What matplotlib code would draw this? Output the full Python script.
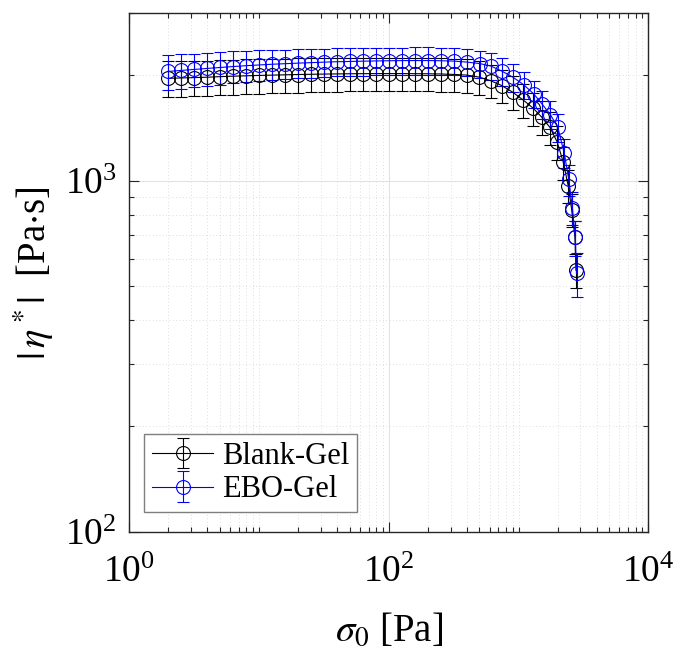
import matplotlib
matplotlib.use("Agg")
import matplotlib.pyplot as plt
import numpy as np
from matplotlib.ticker import LogLocator, LogFormatterMathtext, NullFormatter

plt.rcParams['font.family'] = ['Liberation Serif', 'DejaVu Serif']
plt.rcParams['mathtext.fontset'] = 'stix'

# stress amplitude [Pa]
x_blank = [2.00, 2.52, 3.17, 3.99, 5.02, 6.32, 7.96, 10.0, 12.6, 15.9, 20.0, 25.2,
           31.7, 39.9, 50.2, 63.2, 79.6, 100, 126, 159, 200, 252, 317,
           403, 499, 610, 741, 901, 1088, 1300, 1508, 1747, 1989, 2213, 2418,
           2569, 2723, 2773]
x_ebo = [2.00, 2.52, 3.17, 3.99, 5.02, 6.32, 7.96, 10.0, 12.6, 15.9, 20.0, 25.2,
         31.7, 39.9, 50.2, 63.2, 79.6, 100, 126, 159, 200, 252, 317,
         404, 502, 612, 745, 905, 1095, 1310, 1520, 1760, 2010, 2250, 2440,
         2600, 2740, 2800]

# complex viscosity [Pa s]
eta_blank = [1960, 1965, 1970, 1975, 1982, 1988, 1993, 1998, 2002, 2006, 2010, 2013,
             2016, 2018, 2020, 2021, 2022, 2022, 2022, 2021, 2020, 2017, 2011,
             2002, 1975, 1930, 1870, 1790, 1700, 1610, 1520, 1420, 1290, 1130,
             967, 828, 692, 556]
eta_ebo = [2051, 2065, 2078, 2092, 2105, 2118, 2130, 2140, 2150, 2158, 2166, 2173,
           2180, 2186, 2190, 2194, 2197, 2200, 2202, 2203, 2203, 2200, 2195,
           2180, 2160, 2125, 2055, 1975, 1880, 1770, 1655, 1545, 1420, 1200,
           1010, 838, 690, 545]

err_blank = [230, 230, 228, 228, 227, 226, 226, 225, 225, 224, 224, 223,
             223, 222, 222, 222, 221, 221, 221, 220, 220, 220, 219,
             218, 215, 210, 205, 196, 186, 176, 166, 155, 140, 122,
             104, 90, 75, 61]
err_ebo = [235, 232, 229, 226, 223, 220, 217, 214, 211, 208, 205, 203,
           201, 200, 199, 198, 197, 197, 197, 197, 197, 197, 196,
           195, 193, 190, 185, 178, 170, 160, 150, 141, 130, 115,
           102, 90, 80, 77]

fig = plt.figure(figsize=(6.74, 6.52), dpi=100)
ax = fig.add_axes([0.1918, 0.1845, 0.770, 0.7948])

ax.errorbar(x_blank, eta_blank, yerr=err_blank, color='black', marker='o',
            mfc='none', ms=10, mew=0.8, lw=0.8, elinewidth=0.8, capsize=4.5,
            capthick=0.8, label='Blank-Gel')
ax.errorbar(x_ebo, eta_ebo, yerr=err_ebo, color='blue', marker='o',
            mfc='none', ms=10, mew=0.8, lw=0.8, elinewidth=0.8, capsize=4.5,
            capthick=0.8, label='EBO-Gel')

ax.set_xscale('log')
ax.set_yscale('log')
ax.set_xlim(1, 1e4)
ax.set_ylim(100, 3000)

ax.xaxis.set_major_locator(LogLocator(base=100))
ax.xaxis.set_minor_locator(LogLocator(base=10, subs=np.arange(1, 10), numticks=20))
ax.xaxis.set_minor_formatter(NullFormatter())
ax.xaxis.set_major_formatter(LogFormatterMathtext())
ax.yaxis.set_major_locator(LogLocator(base=10))
ax.yaxis.set_minor_locator(LogLocator(base=10, subs=np.arange(2, 10), numticks=20))
ax.yaxis.set_minor_formatter(NullFormatter())

ax.grid(True, which='major', color='#e2e2e2', lw=0.8, ls='-')
ax.grid(True, which='minor', color='#d4d4d4', lw=0.6, ls=(0, (1, 3)))
ax.set_axisbelow(True)

ax.tick_params(which='both', direction='in', top=True, right=True,
               labelsize=27, color='#262626', width=0.8)
ax.tick_params(axis='x', pad=17)
ax.tick_params(axis='y', pad=9)
ax.tick_params(which='major', length=7)
ax.tick_params(which='minor', length=3.5)
for s in ax.spines.values():
    s.set_color('#262626')
    s.set_linewidth(1.0)

ax.set_xlabel(r'$\sigma_0$ [Pa]', fontsize=28, labelpad=16)
ax.set_ylabel(r'$|\,\eta^*|$  [Pa$\cdot$s]', fontsize=28, labelpad=6)

leg = ax.legend(loc='lower left', bbox_to_anchor=(0.029, 0.038), borderaxespad=0,
                fontsize=22, fancybox=False, edgecolor='#7f7f7f', framealpha=1,
                handlelength=2.0, labelspacing=0.15, borderpad=0.25,
                handletextpad=0.3)
leg.get_frame().set_linewidth(1.0)

fig.savefig('out.png', dpi=100)
